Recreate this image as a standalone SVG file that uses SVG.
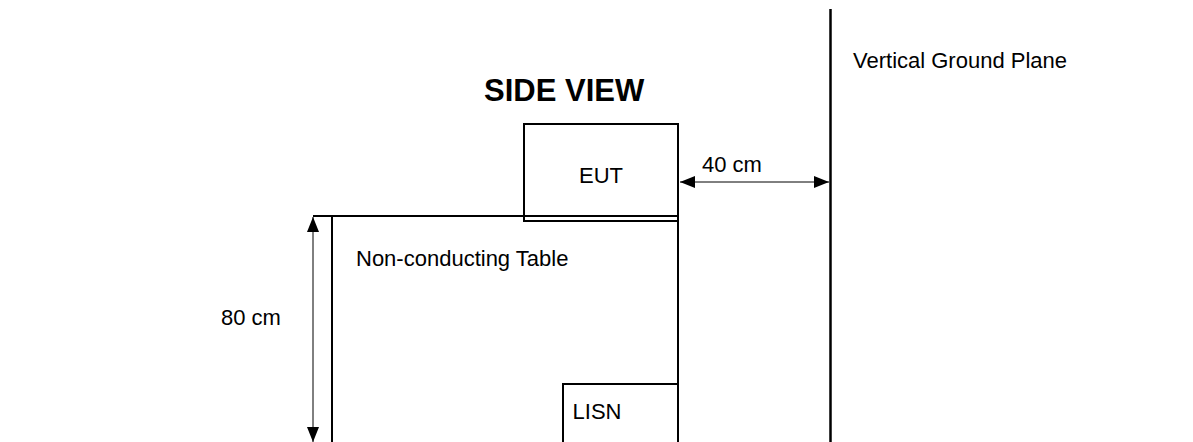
<svg xmlns="http://www.w3.org/2000/svg" width="1193" height="442" viewBox="0 0 1193 442">
<defs>
<marker id="ah" viewBox="0 0 15 12" refX="15" refY="6" markerWidth="15" markerHeight="12" markerUnits="userSpaceOnUse" orient="auto-start-reverse">
<path d="M0,0 L15,6 L0,12 Z" fill="#000"/>
</marker>
</defs>
<style>
.t{font-family:"Liberation Sans",Arial,sans-serif;font-size:22px;fill:#000}
.b{font-family:"Liberation Sans",Arial,sans-serif;font-size:31px;font-weight:bold;fill:#000}
.box{fill:none;stroke:#000;stroke-width:2}
.ln{stroke:#000;stroke-width:2;fill:none}
.dim{stroke:#000;stroke-width:1;fill:none}
</style>
<rect width="1193" height="442" fill="#fff"/>
<text class="b" x="484" y="101">SIDE VIEW</text>
<g id="ground-plane">
<line class="ln" x1="830.5" y1="9" x2="830.5" y2="442" style="stroke-width:2.5"/>
<text class="t" x="853" y="68">Vertical Ground Plane</text>
</g>
<g id="table">
<line class="ln" x1="313" y1="216" x2="678" y2="216"/>
<line class="ln" x1="332" y1="216" x2="332" y2="442"/>
<line class="ln" x1="678" y1="216" x2="678" y2="442"/>
<text class="t" x="356" y="266">Non-conducting Table</text>
</g>
<g id="eut">
<rect class="box" x="524" y="124" width="154" height="97"/>
<text class="t" x="601" y="183" text-anchor="middle">EUT</text>
</g>
<g id="lisn">
<rect class="box" x="563" y="384" width="115" height="70"/>
<text class="t" x="597" y="419" text-anchor="middle">LISN</text>
</g>
<g id="connectors">
<line class="dim" x1="313" y1="217" x2="313" y2="442" marker-start="url(#ah)" marker-end="url(#ah)"/>
<line class="dim" x1="680" y1="182" x2="829" y2="182" marker-start="url(#ah)" marker-end="url(#ah)"/>
<text class="t" x="702" y="172">40 cm</text>
<text class="t" x="221" y="325">80 cm</text>
</g>
</svg>
